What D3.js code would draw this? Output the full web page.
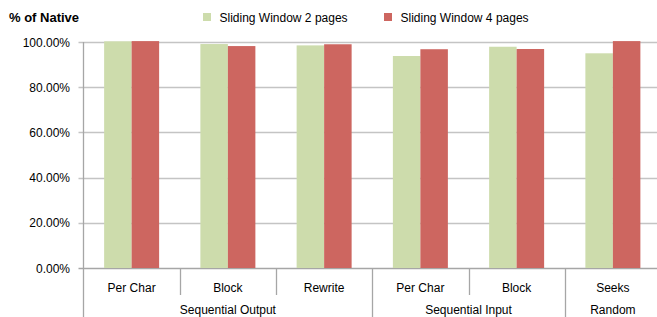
<!DOCTYPE html>
<html>
<head>
<meta charset="utf-8">
<script src="https://cdn.jsdelivr.net/npm/d3@7"></script>
<style>
  body { margin: 0; background: #fff; }
  svg { display: block; font-family: "Liberation Sans", Arial, sans-serif; }
</style>
</head>
<body>
<svg id="chart" width="657" height="317"></svg>
<script>
const categories = ["Per Char", "Block", "Rewrite", "Per Char", "Block", "Seeks"];
const groups = [
  { name: "Sequential Output", size: 3 },
  { name: "Sequential Input", size: 2 },
  { name: "Random", size: 1 }
];
const seriesNames = ["Sliding Window 2 pages", "Sliding Window 4 pages"];
const window2 = [100.3, 99.1, 98.5, 93.8, 97.9, 95.0];
const window4 = [100.4, 98.2, 99.0, 96.8, 96.9, 100.4];
const yTicks = [0, 20, 40, 60, 80, 100];
const colors = ["#cddcac", "#cd6660"];

const width = 657,
  height = 317,
  margin = { left: 83.5, top: 42, right: -4, bottom: 49 },
  iheight = height - margin.top - margin.bottom;

const svg = d3.select("#chart");

const keys = categories.map((c, i) => i);
const x = d3.scaleBand().domain(keys).range([margin.left, width - margin.right]);
const xs = d3.scaleBand().domain([0, 1]).range([0, x.bandwidth()]).paddingOuter(0.75).paddingInner(0);
const y = d3.scaleLinear().domain([0, 100]).range([margin.top + iheight, margin.top]);

// gridlines
svg.append("g")
  .selectAll("line")
  .data(yTicks)
  .join("line")
  .attr("x1", margin.left - 5)
  .attr("x2", width)
  .attr("y1", (d) => Math.round(y(d)) + 0.5)
  .attr("y2", (d) => Math.round(y(d)) + 0.5)
  .attr("stroke", (d) => (d === 0 ? "#a6a6a6" : "#c4c4c4"))
  .attr("stroke-width", 1.3);

// y labels
svg.append("g")
  .selectAll("text")
  .data(yTicks)
  .join("text")
  .attr("x", 70)
  .attr("y", (d) => y(d) + 4.5)
  .attr("text-anchor", "end")
  .attr("font-size", 12)
  .attr("fill", "#000")
  .text((d) => d.toFixed(2) + "%");

// bars
const series = [window2, window4];
const bars = svg.append("g");
series.forEach((vals, s) => {
  bars.selectAll(".s" + s)
    .data(vals)
    .join("rect")
    .attr("class", "s" + s)
    .attr("x", (d, i) => x(i) + xs(s))
    .attr("width", xs.bandwidth())
    .attr("y", (d) => y(d))
    .attr("height", (d) => y(0) - y(d))
    .attr("fill", colors[s]);
});

// vertical axis line
svg.append("line")
  .attr("x1", margin.left).attr("x2", margin.left)
  .attr("y1", y(100)).attr("y2", height)
  .attr("stroke", "#a6a6a6").attr("stroke-width", 1.3);

// category ticks and labels
const ax = svg.append("g");
let start = 0;
const bounds = [];
groups.forEach((g) => {
  bounds.push({ from: start, to: start + g.size, name: g.name });
  start += g.size;
});
const groupEdges = new Set(bounds.map((b) => b.to));
keys.forEach((k) => {
  const edge = x(k) + x.bandwidth();
  const long = groupEdges.has(k + 1);
  ax.append("line")
    .attr("x1", Math.round(edge) + 0.5).attr("x2", Math.round(edge) + 0.5)
    .attr("y1", y(0)).attr("y2", long ? height : 295)
    .attr("stroke", "#a6a6a6").attr("stroke-width", 1.3);
});
ax.selectAll(".cat")
  .data(categories)
  .join("text")
  .attr("class", "cat")
  .attr("x", (d, i) => x(i) + x.bandwidth() / 2)
  .attr("y", 291.5)
  .attr("text-anchor", "middle")
  .attr("font-size", 12)
  .text((d) => d);
ax.selectAll(".grp")
  .data(bounds)
  .join("text")
  .attr("class", "grp")
  .attr("x", (d) => (x(d.from) + x(d.to - 1) + x.bandwidth()) / 2)
  .attr("y", 313.5)
  .attr("text-anchor", "middle")
  .attr("font-size", 12)
  .text((d) => d.name);

// title
svg.append("text")
  .attr("x", 9)
  .attr("y", 22)
  .attr("font-size", 13)
  .attr("font-weight", "bold")
  .text("% of Native");

// legend
const legendX = [203, 384];
const lg = svg.append("g")
  .selectAll("g")
  .data(seriesNames)
  .join("g")
  .attr("transform", (d, i) => `translate(${legendX[i]}, 13)`);
lg.append("rect").attr("width", 8).attr("height", 8).attr("fill", (d, i) => colors[i]);
lg.append("text").attr("x", 16.5).attr("y", 8.5).attr("font-size", 12).text((d) => d);
</script>
</body>
</html>
